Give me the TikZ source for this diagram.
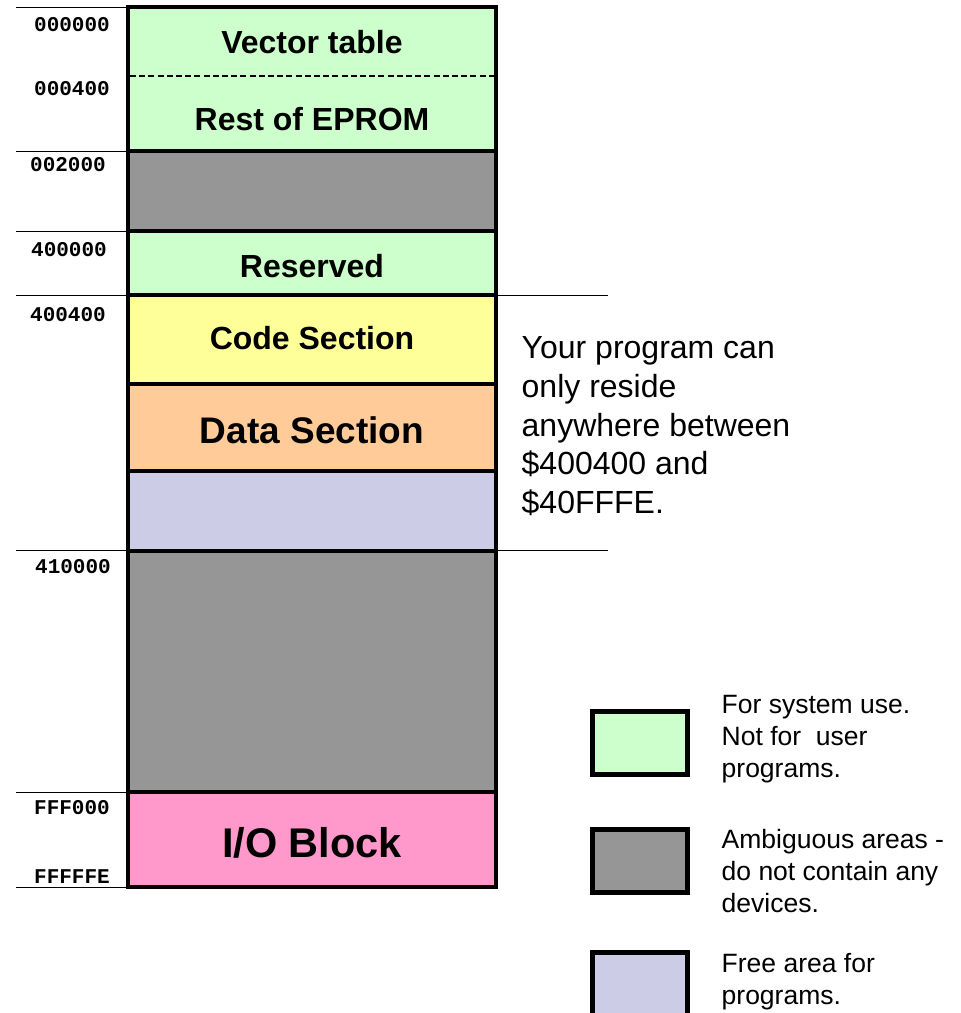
\documentclass[tikz,border=0pt]{standalone}
\usepackage{fontspec}
\setmainfont{Liberation Sans}
\newfontfamily\addrfont{Liberation Mono}
\definecolor{sysgreen}{HTML}{CCFFCC}
\definecolor{ambgray}{HTML}{969696}
\definecolor{codeyel}{HTML}{FFFF99}
\definecolor{dataorg}{HTML}{FFCC99}
\definecolor{freelav}{HTML}{CCCCE6}
\definecolor{iopink}{HTML}{FF99CC}
\begin{document}
\begin{tikzpicture}[x=1pt,y=-1pt,
  seg/.style={draw=black, line width=4pt},
  legbox/.style={draw=black, line width=5pt},
  addr/.style={font=\addrfont\bfseries\fontsize{21}{21}\selectfont, anchor=base east, inner sep=0pt},
  blk/.style={font=\bfseries\fontsize{32}{32}\selectfont, anchor=base, inner sep=0pt},
  tickline/.style={draw=black, line width=1pt},
  note/.style={anchor=north west, align=left, inner sep=0pt}]
\useasboundingbox (0,0) rectangle (961,1013);
% memory segments
\path[seg, fill=sysgreen] (128,7) rectangle (496,151);
\draw[line width=1.6pt, dash pattern=on 6pt off 3.2pt] (130,76) -- (494,76);
\path[seg, fill=ambgray] (128,151) rectangle (496,231);
\path[seg, fill=sysgreen] (128,231) rectangle (496,295);
\path[seg, fill=codeyel] (128,295) rectangle (496,384);
\path[seg, fill=dataorg] (128,384) rectangle (496,471);
\path[seg, fill=freelav] (128,471) rectangle (496,550.5);
\path[seg, fill=ambgray] (128,550.5) rectangle (496,792);
\path[seg, fill=iopink] (128,792) rectangle (496,886.5);
% block labels
\node[blk] (vt) at (312,53) {Vector table};
\node[blk] (re) at (312,130) {Rest of EPROM};
\node[blk] (rs) at (312,277) {Reserved};
\node[blk] (cs) at (312,349) {Code Section};
\node[blk, font=\bfseries\fontsize{37}{37}\selectfont] (ds) at (312,443) {Data Section};
\node[blk, font=\bfseries\fontsize{41.5}{41.5}\selectfont] (io) at (312,857) {I/O Block};
% address separator lines
\foreach \yy/\nm in {7/a,151/b,231/c,295/d,550.5/e,792/f,887/g}{
  \coordinate (l\nm) at (16,\yy);
  \coordinate (r\nm) at (126,\yy);
  \draw[tickline] (l\nm) -- (r\nm);
}
% address labels
\node[addr] (a1) at (110,31.7) {000000};
\node[addr] (a2) at (110,95) {000400};
\node[addr] (a3) at (106,171.7) {002000};
\node[addr] (a4) at (107,256) {400000};
\node[addr] (a5) at (106,321) {400400};
\node[addr] (a6) at (111,573) {410000};
\node[addr] (a7) at (110,814) {FFF000};
\node[addr] (a8) at (110,883.3) {FFFFFE};
% program range lines
\coordinate (p1a) at (498,295);
\coordinate (p1b) at (608,295);
\coordinate (p2a) at (498,550.5);
\coordinate (p2b) at (608,550.5);
\draw[tickline] (p1a) -- (p1b);
\draw[tickline] (p2a) -- (p2b);
\node[note, font=\fontsize{32}{38.8}\selectfont] (range) at (521.5,331.1)
  {\strut Your program can\\only reside\\anywhere between\\\$400400 and\\\$40FFFE.};
% legend
\path[legbox, fill=sysgreen] (592.5,711.5) rectangle (687.5,774.5);
\path[legbox, fill=ambgray] (592.5,829.5) rectangle (687.5,892.5);
\path[legbox, fill=freelav] (592.5,952.5) rectangle (687.5,1020);
\node[note, font=\fontsize{26.5}{32}\selectfont] (leg1) at (721.5,690.6)
  {\strut For system use.\\Not for\ \ user\\programs.};
\node[note, font=\fontsize{26.5}{32}\selectfont] (leg2) at (721.5,825.6)
  {\strut Ambiguous areas -\\do not contain any\\devices.};
\node[note, font=\fontsize{26.5}{32}\selectfont] (leg3) at (721.5,949.6)
  {\strut Free area for\\programs.};
\end{tikzpicture}
\end{document}
